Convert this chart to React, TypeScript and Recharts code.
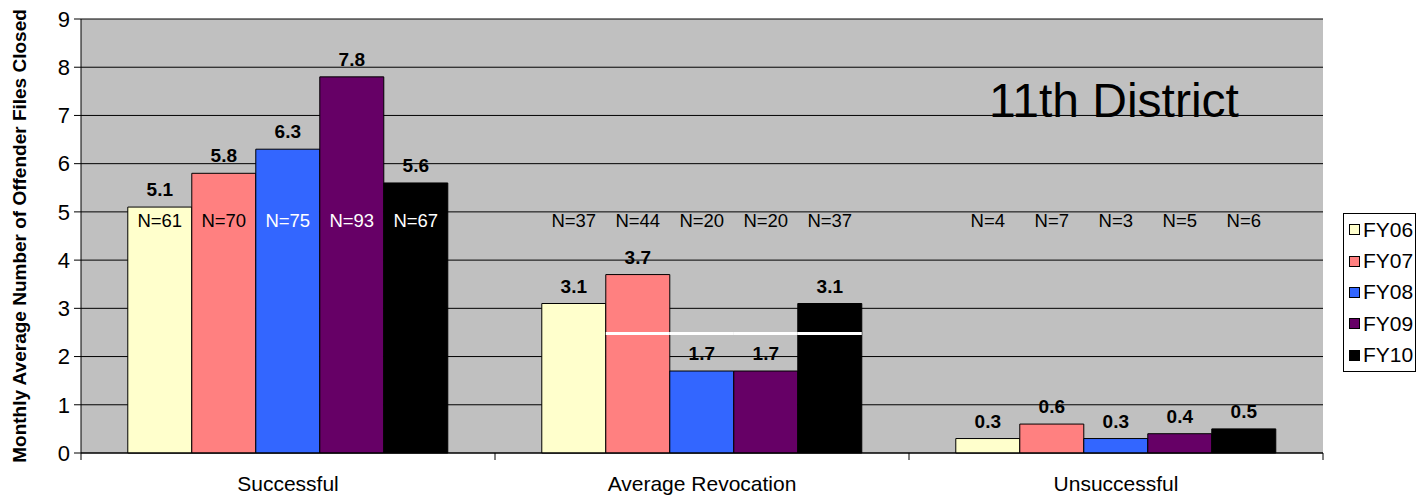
import React from 'react';
import {
  BarChart, Bar, XAxis, YAxis, CartesianGrid, LabelList,
} from 'recharts';

const categories = ['Successful', 'Average Revocation', 'Unsuccessful'];
const seriesNames = ['FY06', 'FY07', 'FY08', 'FY09', 'FY10'];
const seriesColors = ['#FFFFCC', '#FF8080', '#3366FF', '#660066', '#000000'];

const fy06 = [5.1, 3.1, 0.3];
const fy07 = [5.8, 3.7, 0.6];
const fy08 = [6.3, 1.7, 0.3];
const fy09 = [7.8, 1.7, 0.4];
const fy10 = [5.6, 3.1, 0.5];

const n06 = [61, 37, 4];
const n07 = [70, 44, 7];
const n08 = [75, 20, 3];
const n09 = [93, 20, 5];
const n10 = [67, 37, 6];

const yTicks = [0, 1, 2, 3, 4, 5, 6, 7, 8, 9];
const nLabelLevel = 4.83; // N= labels sit at this height
const revocationAvg = 2.48; // white line across FY07..FY10 in the middle group

const values = [fy06, fy07, fy08, fy09, fy10];
const counts = [n06, n07, n08, n09, n10];

const data = categories.map((c, i) => {
  const row: any = { name: c };
  seriesNames.forEach((s, k) => {
    row[s] = values[k][i];
    row['n' + s] = counts[k][i];
  });
  return row;
});

const font = 'Arial, "Liberation Sans", sans-serif';

// N= text plus the white average line, both placed with the bar's own scale
function makeNLabel(k: number) {
  return (props: any) => {
    const { x, y, width, height, index } = props;
    const v = values[k][index];
    const bottom = y + height;
    const perUnit = height / v;
    const ty = bottom - nLabelLevel * perUnit;
    const inside = v > nLabelLevel;
    const dark = k >= 2;
    const ly = bottom - revocationAvg * perUnit;
    return (
      <g>
        {index === 1 && k >= 1 && (
          <line x1={x} x2={x + width} y1={ly} y2={ly} stroke="#FFFFFF" strokeWidth={3} />
        )}
        <text
          x={x + width / 2}
          y={ty}
          textAnchor="middle"
          dominantBaseline="central"
          fontFamily={font}
          fontSize={18.5}
          fill={inside && dark ? '#FFFFFF' : '#000000'}
        >
          {'N=' + counts[k][index]}
        </text>
      </g>
    );
  };
}

const AXIS_Y = 453;

const CategoryTick = (props: any) => {
  const { x, y, payload, index, visibleTicksCount } = props;
  const half = payload.offset || 0;
  return (
    <g>
      <line x1={x - half} x2={x - half} y1={AXIS_Y} y2={AXIS_Y + 7} stroke="#000" />
      {index === visibleTicksCount - 1 && (
        <line x1={x + half} x2={x + half} y1={AXIS_Y} y2={AXIS_Y + 7} stroke="#000" />
      )}
      <text x={x} y={y} dy="0.71em" textAnchor="middle" fontFamily={font} fontSize={21} fill="#000">
        {payload.value}
      </text>
    </g>
  );
};

const LegendBox = () => (
  <div
    style={{
      position: 'absolute', left: 1343, top: 213,
      width: 73, height: 159, border: '1px solid #000', background: '#fff',
      boxSizing: 'border-box', fontFamily: font, fontSize: 21,
    }}
  >
    {seriesNames.map((s, k) => (
      <div key={s} style={{ display: 'flex', alignItems: 'center', height: 31.4, paddingLeft: 5 }}>
        <div style={{ width: 9, height: 9, background: seriesColors[k], border: '1px solid #000', marginRight: 3 }} />
        <span>{s}</span>
      </div>
    ))}
  </div>
);

export default function App() {
  return (
    <div style={{ position: 'absolute', left: 0, top: 0, width: 1418, height: 497, background: '#fff' }}>
      <BarChart
        width={1418}
        height={497}
        data={data}
        margin={{ top: 19, right: 95, left: 0, bottom: 0 }}
        barCategoryGap="11.3%"
        barGap={0}
      >
        <CartesianGrid vertical={false} stroke="#000" fill="#C0C0C0" fillOpacity={1} />
        <XAxis
          dataKey="name"
          height={44}
          tickLine={false}
          tickSize={6}
          axisLine={{ stroke: '#000' }}
          tick={<CategoryTick />}
          tickMargin={17}
          interval={0}
        />
        <YAxis
          width={81}
          domain={[0, 9]}
          ticks={yTicks}
          interval={0}
          axisLine={{ stroke: '#000' }}
          tickLine={{ stroke: '#000' }}
          tickSize={7}
          tickMargin={4}
          tick={{ fontFamily: font, fontSize: 22, fill: '#000' }}
          label={{
            value: 'Monthly Average Number of Offender Files Closed',
            angle: -90,
            position: 'insideLeft',
            dx: 14,
            style: { fontFamily: font, fontSize: 19, fontWeight: 'bold', fill: '#000', textAnchor: 'middle' },
          }}
        />
        {seriesNames.map((s, k) => (
          <Bar key={s} dataKey={s} fill={seriesColors[k]} stroke="#000" strokeWidth={1} isAnimationActive={false}>
            <LabelList dataKey={s} position="top" offset={11}
              style={{ fontFamily: font, fontSize: 19, fontWeight: 'bold', fill: '#000' }} />
            <LabelList dataKey={'n' + s} content={makeNLabel(k)} />
          </Bar>
        ))}
        <text x={1114} y={100} textAnchor="middle" dominantBaseline="central"
          fontFamily={font} fontSize={48} fill="#000">11th District</text>
      </BarChart>
      <LegendBox />
    </div>
  );
}
